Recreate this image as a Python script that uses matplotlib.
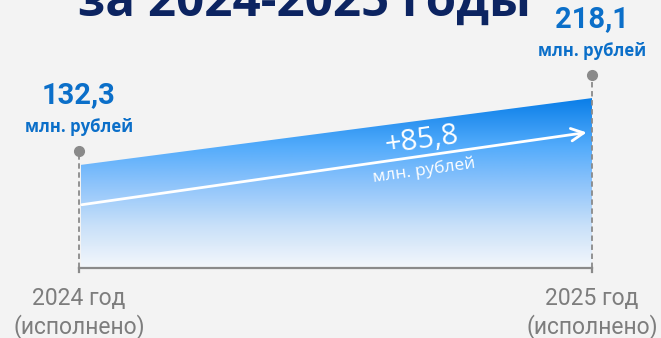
import numpy as np
import matplotlib.pyplot as plt
from matplotlib.colors import LinearSegmentedColormap
from matplotlib.patches import Polygon

# budget values, mln rubles
years = ["2024 год\n(исполнено)", "2025 год\n(исполнено)"]
values = [132.3, 218.1]
value_labels = ["132,3", "218,1"]
delta_label = "+85,8"
unit = "млн. рублей"
title = "за 2024-2025 годы"

bg = "#f3f3f3"
navy = "#0c2461"
blue = "#0b6fc9"
grey = "#7d7d7d"

fig = plt.figure(figsize=(6.61, 3.38), dpi=100, facecolor=bg)
ax = fig.add_axes([79 / 661, 70 / 338, 513 / 661, 268 / 338])
ax.set_facecolor(bg)
ax.set_xlim(0, 1)
ax.set_ylim(0, 344)
ax.axis("off")

x = np.array([0.0, 1.0])
y = np.array(values)

# vertical gradient clipped to the area under the line
cmap = LinearSegmentedColormap.from_list(
    "area", [(0.0, "#f4f7fb"), (0.25, "#c8e0f9"), (0.5, "#8cc3fb"),
             (0.72, "#52abfb"), (1.0, "#0a7ee8")])
grad = np.linspace(0, 1, 256).reshape(-1, 1)
img = ax.imshow(grad, cmap=cmap, origin="lower", aspect="auto",
                extent=[0.003, 1, 0, max(values)], zorder=1)
poly = Polygon([(0.003, 0), (0.003, y[0]), (x[1], y[1]), (x[1], 0)],
               closed=True, facecolor="none", edgecolor="none")
ax.add_patch(poly)
img.set_clip_path(poly)

# baseline with end ticks
ax.plot([0, 1], [0, 0], color="#8a8a8a", lw=1.6, zorder=3, clip_on=False)
for xi in x:
    ax.plot([xi, xi], [0, -5], color="#8a8a8a", lw=1.6, zorder=3, clip_on=False)

# dashed leaders with dots and value labels
dot_y = y * 1.137
for xi, yi, dy, lab in zip(x, y, dot_y, value_labels):
    ax.plot([xi, xi], [0, dy], color="#8a8a8a", lw=1.3, ls=(0, (3, 2)),
            zorder=2, clip_on=False)
    ax.plot(xi, dy, "o", color="#8a8a8a", ms=7, zorder=4, clip_on=False)
    ax.annotate(lab, (xi, dy), xytext=(0, 40), textcoords="offset points",
                ha="center", va="center", fontsize=21, fontweight="bold",
                color=blue, family="Roboto", annotation_clip=False)
    ax.annotate(unit, (xi, dy), xytext=(0, 17), textcoords="offset points",
                ha="center", va="center", fontsize=12, fontweight="bold",
                color=blue, family="Open Sans", annotation_clip=False)

# growth arrow
a0, a1 = y[0] * 0.61, y[1] * 0.80
ax.annotate("", xy=(0.995, a1), xytext=(0, a0),
            arrowprops=dict(arrowstyle="->,head_length=0.9,head_width=0.45",
                            color="white", lw=2), zorder=5)
ax.text(0.669, 164, delta_label, rotation=8, ha="center", va="center",
        fontsize=21, color="white", family="Open Sans", zorder=6)
ax.text(0.673, 125, unit, rotation=8, ha="center", va="center",
        fontsize=12.5, color="white", family="Open Sans", zorder=6)

# year labels
for xi, lab in zip(x, years):
    ax.text(xi, -25, lab, ha="center", va="top", fontsize=16.5, color=grey,
            family="Roboto", linespacing=1.2, clip_on=False)

fig.text(78 / 661, 1 - 16 / 338, title, ha="left", va="baseline",
         fontsize=35.5, fontweight="bold", color=navy, family="Open Sans")

fig.savefig("out.png", dpi=100, facecolor=bg)
